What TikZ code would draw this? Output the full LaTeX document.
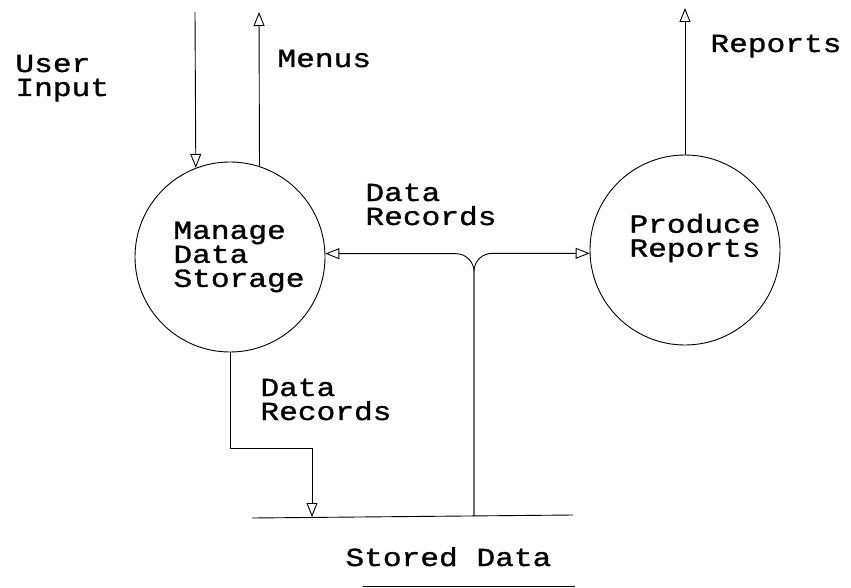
\documentclass[tikz,border=0pt]{standalone}
\usepackage{fontspec}
\newfontfamily\dfdfont[FakeStretch=1.2, FakeBold=1.2]{Liberation Mono}
\usetikzlibrary{arrows.meta,positioning}

\begin{document}
\begin{tikzpicture}
[x=1pt, y=-1pt, line width=0.9pt, >={Triangle[open, length=14pt, width=11pt]},
process/.style={circle, draw, inner sep=0pt, minimum size=190pt},
proctext/.style={font=\dfdfont\fontsize{26}{24}\selectfont, align=left, inner sep=0pt},
flowtext/.style={font=\dfdfont\fontsize{26}{24}\selectfont, align=left, inner sep=0pt, anchor=base west},
flow/.style={->, rounded corners=18pt}]

\useasboundingbox (0,0) rectangle (851,588);

\node[process, label={[proctext, xshift=9pt]center:{Manage\\Data\\Storage}}] (manage) at (230,257) {};
\node[process, label={[proctext, xshift=10pt, yshift=12pt]center:{Produce\\Reports}}] (produce) at (685,250) {};

\coordinate (userin) at (195,12);
\coordinate (menuout) at (259,12);
\coordinate (reportout) at (685,8);
\coordinate (storetl) at (252,518);
\coordinate (storetr) at (573,515);
\coordinate (storebl) at (363,586);
\coordinate (storebr) at (575,586);
\coordinate (storein) at (312,517);
\coordinate (tap) at (474,516);

\draw (storetl) -- (storetr);
\draw (storebl) -- (storebr);

\draw[->] (userin) -- (manage.111.6);
\draw[->] (manage.72.2) -- (menuout);
\draw[->] (produce.north) -- (reportout);
\draw[flow] (tap) |- (manage.2);
\draw[flow] (tap) |- (produce.182.4);
\draw[->] (manage.south) -- ++(0,96) -| (storein);

\node[flowtext] (userlbl) at (15,96) {User\\Input};
\node[flowtext] (menulbl) at (277,67) {Menus};
\node[flowtext] (reportlbl) at (710,52) {Reports};
\node[flowtext] (uprecords) at (365,225) {Data\\Records};
\node[flowtext] (downrecords) at (260,420) {Data\\Records};
\node[flowtext] (storelbl) at (345,566) {Stored Data};
\end{tikzpicture}
\end{document}
